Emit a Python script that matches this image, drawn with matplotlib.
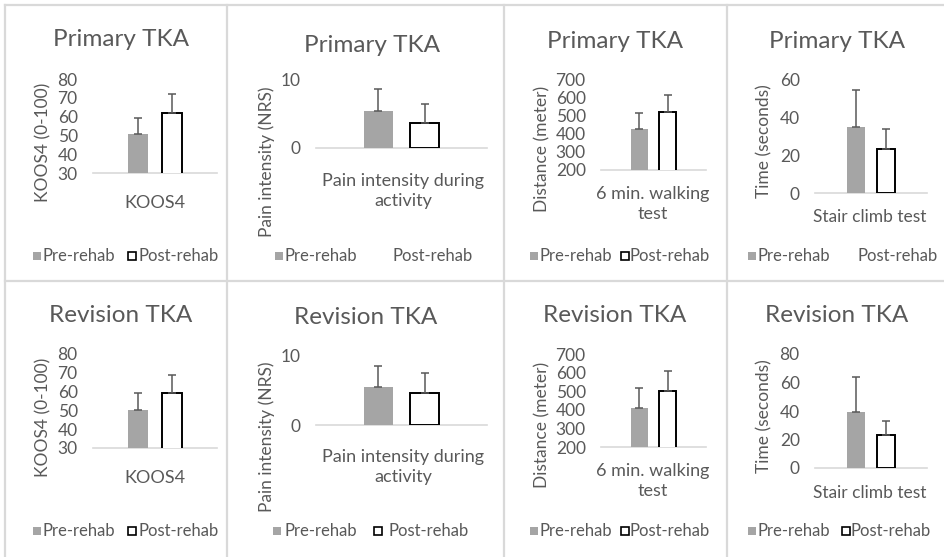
import matplotlib
matplotlib.use("Agg")
import matplotlib.pyplot as plt
from matplotlib.lines import Line2D
from matplotlib.patches import Rectangle

# ---- data -------------------------------------------------------------
groups = ["Primary TKA", "Revision TKA"]
series = ["Pre-rehab", "Post-rehab"]
categories = ["KOOS4", "Pain intensity during\nactivity",
              "6 min. walking\ntest", "Stair climb test"]
y_titles = ["KOOS4 (0-100)", "Pain intensity (NRS)",
            "Distance (meter)", "Time (seconds)"]

primary_pre = [51, 5.4, 425, 35]
primary_pre_sd = [8, 3.3, 88, 19]
primary_post = [62, 3.7, 518, 23]
primary_post_sd = [10, 2.8, 94, 10.5]

revision_pre = [50, 5.5, 408, 39]
revision_pre_sd = [9.5, 3.1, 111, 25]
revision_post = [59, 4.7, 500, 23]
revision_post_sd = [10, 2.9, 108, 10]

# axis ranges (min, max, step) per row
primary_ranges = [(30, 80, 10), (0, 10, 10), (200, 700, 100), (0, 60, 20)]
revision_ranges = [(30, 80, 10), (0, 10, 10), (200, 700, 100), (0, 80, 20)]

# ---- style --------------------------------------------------------------
W, H = 945, 557
FONT = "Lato"
TXT = "#595959"
GREY_BAR = "#a5a5a5"
BORDER = "#d9d9d9"

plt.rcParams["font.family"] = [FONT, "DejaVu Sans"]

fig = plt.figure(figsize=(W / 100, H / 100), dpi=100)
fig.patch.set_facecolor("white")


def fx(x):
    return x / W


def fy(y):
    return 1 - y / H


# panel frames
for x in (5, 227, 504, 727):
    fig.add_artist(Line2D([fx(x), fx(x)], [fy(5), fy(H)], color=BORDER, lw=1.6))
for y in (5, 281):
    fig.add_artist(Line2D([fx(5), fx(W)], [fy(y), fy(y)], color=BORDER, lw=1.6))

# layout of each column (pixel coordinates within a row)
plot_x = [(93, 217), (316, 487), (601, 706), (815, 927)]
plot_y = [[(79, 173), (80, 148), (79, 170), (79, 193)],
          [(354, 448), (356, 425), (354, 447), (354, 468)]]
title_pos = [[(121, 40), (372, 46), (615, 42), (837, 42)],
             [(121, 315), (366, 318), (615, 315), (837, 315)]]
ylab_pos = [[(43, 142), (267, 162), (542, 149), (764, 141)],
            [(43, 417), (267, 437), (542, 425), (764, 416)]]
cat_pos = [[(155, 203), (403, 191), (653, 204), (870, 217)],
           [(155, 478), (403, 467), (653, 481), (870, 493)]]
legend_y = [256, 531]
# (pre square x, pre text x, post square x, post text x, post square visible)
legend_x = [[(33, 43, 128, 139, True), (275, 285, 382, 393, False),
             (530, 540, 621, 630, True), (748, 758, 848, 858, False)],
            [(33, 43, 128, 139, True), (273, 285, 374, 388, True),
             (530, 540, 621, 630, True), (748, 758, 842, 851, True)]]

OFFSET = 0.135
BAR_W = 0.165

rows = [
    (primary_pre, primary_pre_sd, primary_post, primary_post_sd, primary_ranges),
    (revision_pre, revision_pre_sd, revision_post, revision_post_sd, revision_ranges),
]

for r, (pre, pre_sd, post, post_sd, ranges) in enumerate(rows):
    for c in range(4):
        x0, x1 = plot_x[c]
        y0, y1 = plot_y[r][c]
        ax = fig.add_axes([fx(x0), fy(y1), (x1 - x0) / W, (y1 - y0) / H])
        lo, hi, step = ranges[c]

        ax.bar(-OFFSET, pre[c], width=BAR_W, color=GREY_BAR, zorder=3)
        ax.bar(OFFSET, post[c], width=BAR_W, color="white",
               edgecolor="black", linewidth=1.4, zorder=3)
        ax.errorbar([-OFFSET, OFFSET], [pre[c], post[c]],
                    yerr=[[0, 0], [pre_sd[c], post_sd[c]]],
                    fmt="none", ecolor="#595959", elinewidth=1.1,
                    capsize=3.2, capthick=1.1, zorder=4, clip_on=False)

        ax.set_xlim(-0.5, 0.5)
        ax.set_ylim(lo, hi)
        ax.set_yticks(list(range(lo, hi + 1, step)))
        ax.set_xticks([])
        ax.tick_params(axis="y", length=0, pad=11, labelsize=12.5,
                       labelcolor=TXT)
        for s in ("left", "right", "top"):
            ax.spines[s].set_visible(False)
        ax.spines["bottom"].set_color(BORDER)
        ax.spines["bottom"].set_linewidth(1.2)
        ax.spines["bottom"].set_zorder(1)
        ax.set_facecolor("none")

        tx, ty = title_pos[r][c]
        fig.text(fx(tx), fy(ty), groups[r], ha="center", va="center",
                 fontsize=17.5, color=TXT)
        lx, ly = ylab_pos[r][c]
        fig.text(fx(lx), fy(ly), y_titles[c], ha="center", va="center",
                 rotation=90, fontsize=12.5, color=TXT)
        cx, cy = cat_pos[r][c]
        fig.text(fx(cx), fy(cy), categories[c], ha="center", va="center",
                 fontsize=12.5 if c == 3 else 13, color=TXT, linespacing=1.25)

        # legend
        sq = 8
        px, ptx, qx, qtx, q_vis = legend_x[r][c]
        ly = legend_y[r]
        fig.add_artist(Rectangle((fx(px), fy(ly + sq / 2)), sq / W, sq / H,
                                 facecolor=GREY_BAR, edgecolor="none",
                                 transform=fig.transFigure))
        fig.text(fx(ptx), fy(ly), series[0], ha="left", va="center",
                 fontsize=12, color=TXT)
        fig.add_artist(Rectangle((fx(qx), fy(ly + sq / 2)), sq / W, sq / H,
                                 facecolor="white",
                                 edgecolor="black" if q_vis else "none",
                                 linewidth=1.2, transform=fig.transFigure))
        fig.text(fx(qtx), fy(ly), series[1], ha="left", va="center",
                 fontsize=12, color=TXT)

fig.savefig("out.png", dpi=100, facecolor="white")
